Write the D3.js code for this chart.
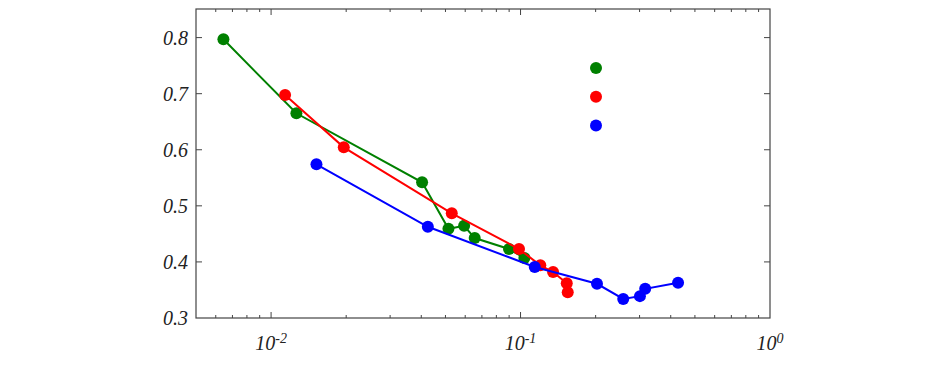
<!DOCTYPE html>
<html><head><meta charset="utf-8">
<script src="https://cdn.jsdelivr.net/npm/d3@7"></script>
<style>
html,body{margin:0;padding:0;background:#fff;}
svg{display:block;}
text{font-family:"Liberation Serif","DejaVu Serif",serif;font-style:italic;fill:#222;}
</style></head>
<body><svg id="c" width="948" height="373"></svg>
<script>
// Data
const greenX = [0.00644, 0.01263, 0.0403, 0.0514, 0.0594, 0.0655, 0.0899, 0.1036];
const greenY = [0.797, 0.665, 0.542, 0.459, 0.4645, 0.4426, 0.423, 0.407];
const redX = [0.01138, 0.01956, 0.0530, 0.0986, 0.120, 0.135, 0.1532, 0.1546];
const redY = [0.6975, 0.6043, 0.4866, 0.423, 0.394, 0.382, 0.362, 0.346];
const blueX = [0.0152, 0.0425, 0.114, 0.2025, 0.258, 0.301, 0.316, 0.428];
const blueY = [0.574, 0.4627, 0.391, 0.361, 0.334, 0.339, 0.352, 0.363];
const yTicks = [0.3, 0.4, 0.5, 0.6, 0.7, 0.8];
const xDomain = [0.005, 1];
const yDomain = [0.3, 0.851];

const series = [
  {name: "green", color: "#008000", x: greenX, y: greenY},
  {name: "red", color: "#ff0000", x: redX, y: redY},
  {name: "blue", color: "#0000ff", x: blueX, y: blueY}
];

const L = 196, R = 770, T = 9, B = 318;
const svg = d3.select("#c");
const x = d3.scaleLog().domain(xDomain).range([L, R]);
const y = d3.scaleLinear().domain(yDomain).range([B, T]);

const axisColor = "#444";
// frame
svg.append("rect").attr("x", L).attr("y", T).attr("width", R - L).attr("height", B - T)
  .attr("fill", "none").attr("stroke", axisColor).attr("stroke-width", 1.2);

// x ticks (log)
const xt = x.ticks();
xt.forEach(v => {
  const lg = Math.log10(v);
  const major = Math.abs(lg - Math.round(lg)) < 1e-9;
  const len = major ? 6 : 3;
  const px = x(v);
  if (px < L + 0.5 || px > R - 0.5) return;
  svg.append("line").attr("x1", px).attr("x2", px).attr("y1", B).attr("y2", B - len)
    .attr("stroke", axisColor).attr("stroke-width", 1);
  svg.append("line").attr("x1", px).attr("x2", px).attr("y1", T).attr("y2", T + len)
    .attr("stroke", axisColor).attr("stroke-width", 1);
});
// x labels
xt.filter(v => Math.abs(Math.log10(v) - Math.round(Math.log10(v))) < 1e-9).forEach(v => {
  const e = Math.round(Math.log10(v));
  const t = svg.append("text").attr("x", x(v)).attr("y", 350).attr("text-anchor", "middle")
    .attr("font-size", 20);
  t.append("tspan").text("10");
  t.append("tspan").attr("dy", -7).attr("font-size", 14).text(String(e));
});

// y ticks
yTicks.forEach(v => {
  const py = y(v);
  if (py > T + 0.5 && py < B - 0.5) {
    svg.append("line").attr("x1", L).attr("x2", L + 6).attr("y1", py).attr("y2", py)
      .attr("stroke", axisColor).attr("stroke-width", 1);
    svg.append("line").attr("x1", R).attr("x2", R - 6).attr("y1", py).attr("y2", py)
      .attr("stroke", axisColor).attr("stroke-width", 1);
  }
  svg.append("text").attr("x", 188).attr("y", py).attr("dy", "0.35em")
    .attr("text-anchor", "end").attr("font-size", 20).text(d3.format(".1f")(v));
});

// series
const line = d3.line().x(d => x(d[0])).y(d => y(d[1]));
series.forEach(s => {
  const pts = s.x.map((v, i) => [v, s.y[i]]);
  const g = svg.append("g");
  g.append("path").attr("d", line(pts)).attr("fill", "none")
    .attr("stroke", s.color).attr("stroke-width", 2);
  g.selectAll("circle").data(pts).enter().append("circle")
    .attr("cx", d => x(d[0])).attr("cy", d => y(d[1])).attr("r", 6).attr("fill", s.color);
});

// legend markers (no text)
series.forEach((s, i) => {
  svg.append("circle").attr("cx", 596).attr("cy", 68 + i * 28.7).attr("r", 6).attr("fill", s.color);
});
</script>
</body></html>
